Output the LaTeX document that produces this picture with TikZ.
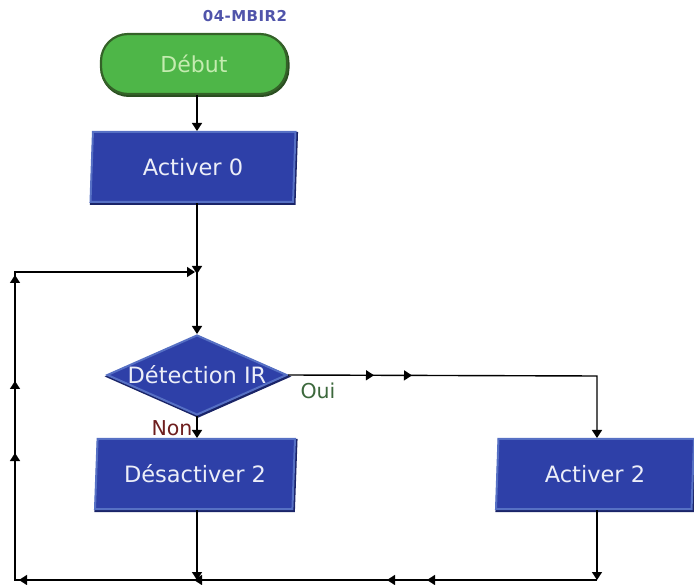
\documentclass[tikz,border=0pt]{standalone}
\usepackage{fontspec}
\setmainfont{DejaVu Sans}
\usetikzlibrary{shapes.geometric,arrows.meta,decorations.markings}

\definecolor{startfill}{RGB}{78,182,72}
\definecolor{startedge}{RGB}{52,98,40}
\definecolor{starttext}{RGB}{196,236,176}
\definecolor{boxfill}{RGB}{46,64,168}
\definecolor{boxedge}{RGB}{86,112,196}
\definecolor{boxshade}{RGB}{26,36,104}
\definecolor{boxtext}{RGB}{236,238,248}
\definecolor{titlecol}{RGB}{80,84,170}
\definecolor{yescol}{RGB}{60,104,60}
\definecolor{nocol}{RGB}{110,30,30}

\begin{document}
\begin{tikzpicture}[x=1pt,y=-1pt,
  >={Triangle[length=8pt,width=10pt]},
  flow/.style={line width=1.4pt,black},
  arr/.style={flow,->},
  shapetext/.style={font=\fontsize{22.5}{24}\selectfont,text=boxtext},
  startbox/.style={rectangle,rounded corners=27pt,minimum width=186pt,minimum height=60pt,
    fill=startfill,draw=startedge,line width=2.2pt,
    preaction={draw=startedge!80!black,line width=3pt,transform canvas={shift={(1pt,-1.5pt)}}},
    font=\fontsize{22}{24}\selectfont,text=starttext},
  iobox/.style={trapezium,trapezium left angle=82,trapezium right angle=98,
    trapezium stretches body,minimum width=#1,minimum height=70pt,inner sep=0pt,
    fill=boxfill,draw=boxedge,line width=2pt,
    preaction={draw=boxshade,line width=3pt,transform canvas={shift={(1pt,-1.5pt)}}},
    shapetext},
  testbox/.style={diamond,minimum width=180pt,minimum height=80pt,inner sep=0pt,
    fill=boxfill,draw=boxedge,line width=2pt,
    preaction={draw=boxshade,line width=3pt,transform canvas={shift={(1pt,-1.5pt)}}},
    shapetext},
  labeltext/.style={font=\fontsize{20.5}{22}\selectfont,inner sep=0pt}
]
\useasboundingbox (0,0) rectangle (694,585);

% title
\node[font=\bfseries\fontsize{15}{16}\selectfont\addfontfeatures{LetterSpace=3},text=titlecol] (title) at (245,16) {04-MBIR2};

% blocks
\node[startbox] (debut) at (194,64) {Début};
\node[iobox=205pt] (act0) at (193,167) {Activer 0};
\node[testbox] (det) at (197,375) {\makebox[0pt]{Détection IR}};
\node[iobox=200pt] (des) at (195,474) {Désactiver 2};
\node[iobox=198pt] (act2) at (595,474) {Activer 2};

% branch labels
\node[labeltext,text=yescol] (oui) at (318,391) {Oui};
\node[labeltext,text=nocol] (non) at (172,428) {Non};

% routing points
\coordinate (j1) at (197,272);
\coordinate (c1) at (15,272);
\coordinate (c2) at (15,580);
\coordinate (b1) at (197,580);
\coordinate (b2) at (597,580);
\coordinate (r1) at (597,376);

% main flow
\draw[arr] (debut.south -| j1) -- (act0.north -| j1);
\draw[arr] (act0.south -| j1) -- ([yshift=-2pt]j1);
\draw[arr] (j1) -- (det.north);
\draw[arr] (det.south) -- (des.north -| det.south);

% "Oui" branch
\draw[arr,postaction={decorate},decoration={markings,
    mark=at position 86pt with {\arrow{>}},
    mark=at position 124pt with {\arrow{>}}}]
  (det.east) -- (r1) -- (act2.north -| r1);

% return lines
\draw[arr] (des.south -| b1) -- (b1);
\draw[arr] (act2.south -| b2) -- (b2);
\draw[arr,postaction={decorate},decoration={markings,
    mark=at position 170pt with {\arrow{>}},
    mark=at position 210pt with {\arrow{>}},
    mark=at position 403pt with {\arrow{>}},
    mark=at position 578pt with {\arrow{>}},
    mark=at position 709pt with {\arrow{>}},
    mark=at position 781pt with {\arrow{>}},
    mark=at position 887pt with {\arrow{>}}}]
  (b2) -- (b1) -- (c2) -- (c1) -- ([xshift=-2pt]j1);
\end{tikzpicture}
\end{document}
